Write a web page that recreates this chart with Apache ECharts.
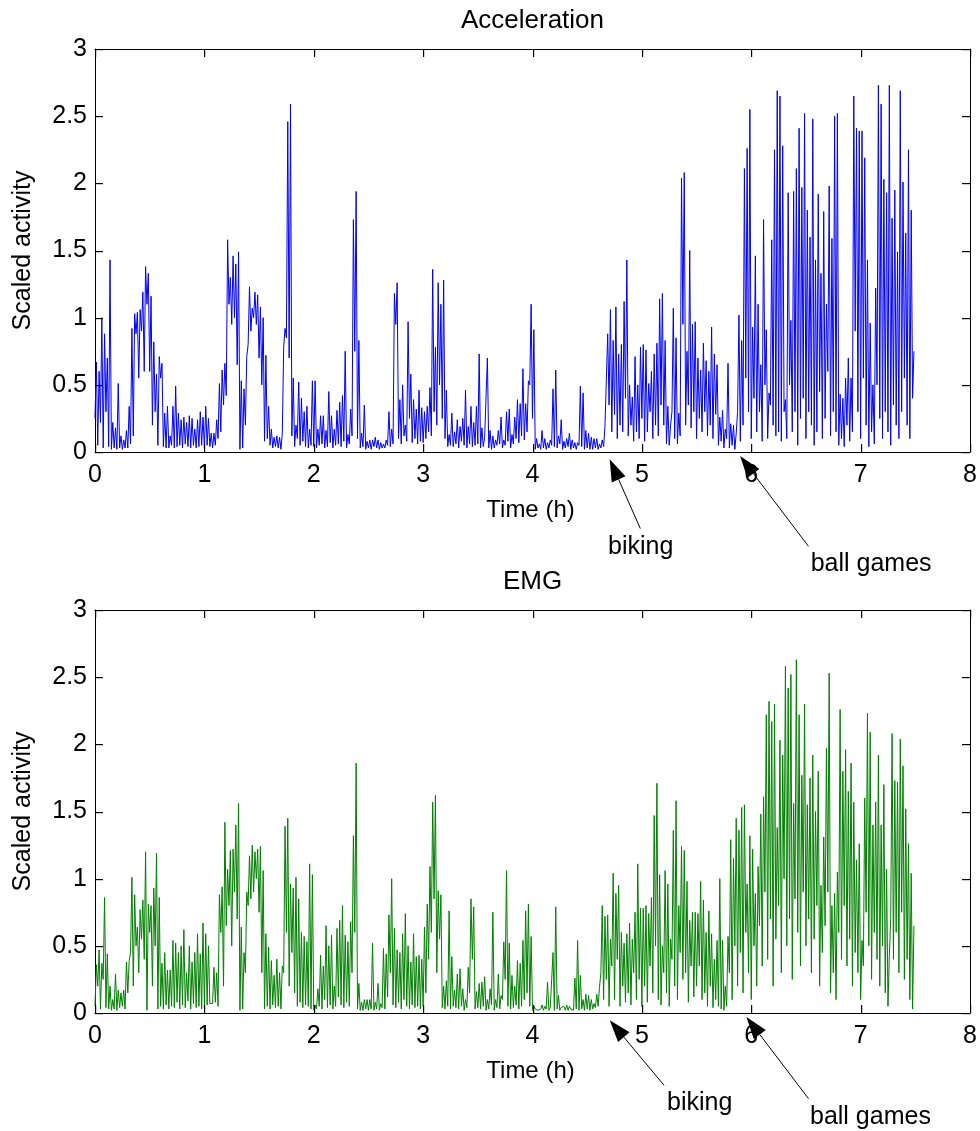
<!DOCTYPE html>
<html>
<head>
<meta charset="utf-8">
<title>Acceleration and EMG activity</title>
<script src="https://cdn.jsdelivr.net/npm/echarts@6/dist/echarts.min.js"></script>
<style>
  html, body { margin: 0; padding: 0; background: #fff; }
  #chart { width: 980px; height: 1131px; }
</style>
</head>
<body>
<div id="chart"></div>
<script>
// Sampling step of the activity signal, in hours (40 samples per hour, 0 to 7.5 h)
const STEP = 0.025;

// Acceleration: local peak of each sample window
const accPeak = [
  0.67,0.6,1.0,0.88,0.7,1.43,0.22,0.18,0.51,0.12,
  0.09,0.16,0.34,0.92,1.03,1.04,1.06,1.19,1.38,1.33,
  1.16,0.82,0.58,0.71,0.66,0.29,0.34,0.12,0.34,0.49,
  0.29,0.24,0.26,0.22,0.27,0.25,0.17,0.24,0.3,0.26,
  0.34,0.25,0.14,0.14,0.24,0.51,0.61,0.66,1.58,1.3,
  1.46,1.4,1.49,0.53,0.47,0.71,1.23,1.07,1.19,1.17,
  1.08,1.0,0.72,0.34,0.17,0.11,0.12,0.11,0.14,0.92,
  2.46,2.59,0.55,0.2,0.52,0.4,0.3,0.34,0.17,0.53,
  0.53,0.17,0.27,0.27,0.16,0.45,0.27,0.17,0.31,0.37,
  0.42,0.75,0.13,0.32,1.73,1.94,0.83,0.14,0.35,0.08,
  0.09,0.09,0.11,0.09,0.07,0.06,0.09,0.3,0.17,1.18,
  1.26,0.39,0.5,0.2,0.97,0.58,0.39,0.32,0.46,0.33,
  0.3,0.34,0.48,1.36,0.78,1.26,1.1,1.28,0.46,0.13,
  0.29,0.15,0.24,0.19,0.25,0.46,0.19,0.34,0.22,0.34,
  0.73,0.18,0.11,0.7,0.16,0.12,0.09,0.16,0.26,0.09,
  0.3,0.32,0.13,0.26,0.39,0.36,0.62,0.36,0.53,1.1,
  0.91,0.1,0.06,0.16,0.1,0.07,0.09,0.47,0.61,0.12,
  0.24,0.08,0.1,0.14,0.09,0.07,0.07,0.49,0.44,0.16,
  0.14,0.11,0.1,0.1,0.06,0.09,0.19,0.88,1.06,0.83,
  1.08,0.73,0.8,1.12,1.43,0.5,0.41,0.71,0.5,0.78,
  0.8,0.76,0.51,0.6,0.73,0.81,1.14,1.18,0.83,0.34,
  0.2,1.07,0.85,0.29,2.04,2.08,0.75,1.5,0.95,0.97,
  0.7,0.61,0.81,0.68,0.6,0.93,0.73,0.65,0.26,0.31,
  0.17,0.66,0.21,0.2,0.14,1.02,0.83,2.11,2.26,2.55,
  0.93,1.46,1.1,0.65,1.73,0.91,0.44,1.58,2.25,2.69,
  2.65,2.28,0.39,1.93,0.98,1.94,2.11,2.41,1.97,2.52,
  1.8,1.6,2.48,1.43,1.92,1.33,1.79,1.1,1.98,1.59,
  2.5,2.52,0.43,0.4,0.55,0.7,0.55,2.65,2.41,2.39,
  2.39,2.19,1.43,0.96,0.5,1.22,2.73,2.59,2.03,1.93,
  2.73,1.74,1.95,1.49,2.69,2.01,1.63,2.25,1.8,0.75
];

// Acceleration: trough between consecutive peaks
const accBase = [
  0.25,0.05,0.22,0.03,0.3,0.04,0.02,0.03,0.02,0.03,
  0.02,0.03,0.03,0.06,0.12,0.88,0.55,0.9,0.6,1.1,
  0.6,0.2,0.3,0.05,0.55,0.04,0.03,0.03,0.05,0.03,
  0.04,0.05,0.03,0.06,0.04,0.03,0.05,0.03,0.04,0.05,
  0.03,0.05,0.04,0.03,0.05,0.1,0.15,0.35,0.42,1.1,
  0.95,1.0,0.65,0.02,0.03,0.2,0.8,0.9,1.0,0.95,
  0.7,0.5,0.08,0.1,0.05,0.03,0.04,0.03,0.02,0.78,
  0.85,0.7,0.12,0.04,0.1,0.05,0.08,0.04,0.03,0.05,
  0.04,0.03,0.05,0.06,0.03,0.04,0.07,0.03,0.05,0.06,
  0.04,0.08,0.03,0.06,0.12,0.75,0.1,0.03,0.04,0.02,
  0.03,0.02,0.04,0.03,0.02,0.03,0.03,0.05,0.04,0.06,
  0.95,0.1,0.06,0.12,0.08,0.25,0.07,0.1,0.06,0.08,
  0.07,0.1,0.15,0.12,0.3,0.2,0.5,0.25,0.1,0.04,
  0.05,0.04,0.06,0.03,0.08,0.05,0.03,0.06,0.04,0.05,
  0.06,0.03,0.04,0.1,0.03,0.02,0.03,0.05,0.06,0.03,
  0.05,0.08,0.03,0.06,0.1,0.07,0.12,0.09,0.15,0.5,
  0.25,0.02,0.03,0.02,0.03,0.02,0.03,0.05,0.04,0.03,
  0.06,0.02,0.03,0.04,0.02,0.03,0.02,0.05,0.04,0.02,
  0.03,0.02,0.02,0.03,0.02,0.03,0.04,0.2,0.35,0.15,
  0.28,0.1,0.2,0.15,0.4,0.12,0.2,0.08,0.15,0.1,
  0.25,0.08,0.15,0.3,0.1,0.2,0.12,0.35,0.2,0.06,
  0.05,0.3,0.1,0.06,0.12,0.95,0.2,0.35,0.18,0.3,
  0.1,0.25,0.15,0.3,0.12,0.2,0.1,0.28,0.05,0.08,
  0.03,0.1,0.03,0.05,0.02,0.3,0.08,0.2,0.55,0.3,
  0.1,0.4,0.15,0.3,0.08,0.5,0.1,0.35,0.2,0.12,
  0.15,0.08,0.3,0.1,0.5,0.15,0.3,0.05,0.25,0.4,
  0.1,0.3,0.2,0.05,0.15,0.45,0.1,0.25,0.6,0.12,
  0.3,0.15,0.05,0.1,0.04,0.2,0.08,0.15,0.9,0.3,
  0.1,0.55,0.2,0.04,0.15,0.06,0.5,0.25,0.1,0.3,
  0.15,0.05,0.35,0.2,0.1,0.3,0.55,0.2,0.1,0.4
];

// EMG: local peak of each sample window
const emgPeak = [
  0.36,0.47,0.37,0.86,0.44,0.2,0.1,0.29,0.17,0.15,
  0.17,0.38,0.39,1.01,0.88,0.64,0.77,0.84,1.2,0.81,
  0.8,0.93,1.19,0.86,0.37,0.45,0.32,0.32,0.54,0.52,
  0.45,0.5,0.62,0.3,0.5,0.38,0.45,0.59,0.44,0.67,
  0.59,0.5,0.07,0.34,0.3,0.88,0.94,1.42,1.07,1.21,
  1.22,1.4,1.56,0.64,0.45,0.9,1.17,1.25,1.2,1.22,
  1.24,1.06,0.59,0.49,0.39,0.28,0.4,0.3,0.35,1.39,
  1.45,0.96,0.93,1.01,0.85,0.6,0.57,0.53,1.11,1.03,
  0.06,0.18,0.43,0.35,0.65,0.5,0.58,0.2,0.63,0.69,
  0.8,0.58,0.53,0.68,1.32,1.86,0.22,0.08,0.1,0.1,
  0.1,0.52,0.08,0.22,0.07,0.48,0.44,0.73,1.0,0.63,
  0.47,0.45,0.59,0.74,0.5,0.38,0.59,0.42,0.43,0.4,
  0.64,0.81,1.09,1.57,1.62,0.91,0.88,0.2,0.24,0.76,
  0.42,0.17,0.29,0.33,0.18,0.1,0.34,0.85,0.79,0.16,
  0.22,0.23,0.27,0.1,0.18,0.75,0.1,0.29,0.13,0.53,
  1.06,0.52,0.28,0.2,0.39,0.37,0.54,0.76,0.81,0.57,
  0.05,0.04,0.03,0.06,0.05,0.23,0.04,0.45,0.79,0.13,
  0.04,0.05,0.06,0.05,0.04,0.26,0.54,0.28,0.1,0.14,
  0.13,0.1,0.07,0.14,0.19,0.8,0.72,0.73,0.55,1.04,
  0.89,0.95,0.6,0.52,0.59,0.67,0.55,0.75,1.11,0.78,
  0.78,0.8,0.74,0.86,1.47,1.71,1.03,0.5,1.06,0.96,
  0.55,1.36,1.58,0.8,1.24,1.21,0.98,0.69,0.75,0.75,
  0.74,0.98,0.84,0.6,0.76,0.59,0.4,0.54,1.0,0.54,
  0.2,0.57,1.29,1.15,1.45,1.36,1.53,1.55,0.96,1.32,
  1.22,0.89,1.09,1.48,1.61,2.22,2.32,2.17,2.3,1.38,
  2.03,1.92,2.58,2.42,2.52,1.56,2.63,2.22,1.77,2.3,
  1.55,1.75,1.92,1.5,1.8,0.95,1.31,1.97,2.53,0.8,
  0.89,1.05,2.26,1.8,1.96,1.65,1.86,1.57,1.14,1.26,
  0.54,1.6,2.23,2.09,1.4,1.57,1.92,1.4,1.7,1.07,
  0.43,2.08,1.73,1.72,2.04,1.84,1.52,1.26,1.04,0.65
];

// EMG: trough between consecutive peaks
const emgBase = [
  0.05,0.2,0.03,0.25,0.04,0.03,0.02,0.03,0.02,0.04,
  0.05,0.03,0.15,0.45,0.2,0.5,0.3,0.55,0.4,0.02,
  0.6,0.2,0.5,0.03,0.05,0.03,0.06,0.03,0.05,0.04,
  0.08,0.03,0.06,0.04,0.09,0.03,0.07,0.04,0.05,0.03,
  0.04,0.06,0.07,0.07,0.08,0.05,0.6,0.2,0.65,0.8,
  0.5,0.9,0.7,0.02,0.03,0.3,0.8,0.85,0.9,1.0,
  0.75,0.3,0.03,0.05,0.03,0.06,0.04,0.05,0.03,0.3,
  0.6,0.2,0.45,0.15,0.05,0.08,0.04,0.06,0.05,0.03,
  0.02,0.03,0.05,0.03,0.1,0.04,0.06,0.03,0.05,0.12,
  0.06,0.04,0.08,0.05,0.3,0.6,0.03,0.02,0.02,0.03,
  0.02,0.03,0.02,0.03,0.02,0.04,0.03,0.12,0.3,0.06,
  0.04,0.08,0.03,0.1,0.05,0.03,0.06,0.04,0.05,0.03,
  0.05,0.15,0.4,0.6,0.85,0.3,0.55,0.04,0.03,0.05,
  0.03,0.05,0.04,0.03,0.05,0.02,0.04,0.15,0.4,0.03,
  0.04,0.03,0.05,0.02,0.03,0.06,0.02,0.04,0.03,0.1,
  0.25,0.05,0.03,0.04,0.06,0.03,0.05,0.1,0.15,0.05,
  0.02,0.03,0.02,0.03,0.02,0.03,0.02,0.03,0.02,0.03,
  0.02,0.03,0.02,0.02,0.03,0.02,0.03,0.02,0.03,0.02,
  0.03,0.02,0.03,0.04,0.05,0.3,0.1,0.25,0.05,0.35,
  0.1,0.4,0.05,0.2,0.08,0.15,0.06,0.3,0.1,0.25,
  0.05,0.2,0.08,0.35,0.15,0.5,0.1,0.06,0.3,0.15,
  0.05,0.4,0.2,0.1,0.45,0.25,0.3,0.08,0.35,0.12,
  0.2,0.35,0.1,0.15,0.05,0.2,0.04,0.1,0.05,0.03,
  0.02,0.05,0.3,0.1,0.5,0.2,0.45,0.15,0.6,0.3,
  0.1,0.5,0.2,0.65,0.35,0.9,0.4,0.7,0.2,0.55,
  0.8,0.3,1.0,0.5,0.7,0.25,0.85,0.6,0.35,0.9,
  0.5,0.7,0.3,0.55,0.8,0.2,0.45,0.65,0.9,0.15,
  0.3,0.1,0.6,0.4,0.8,0.35,0.55,0.2,0.45,0.3,
  0.1,0.35,0.75,0.5,0.25,0.6,0.4,0.2,0.5,0.15,
  0.05,0.7,0.4,0.6,0.3,0.75,0.25,0.4,0.1,0.03
];

// Axis ticks
const timeTicks = [0, 1, 2, 3, 4, 5, 6, 7, 8];
const activityTicks = [0, 0.5, 1, 1.5, 2, 2.5, 3];

// Panel titles and activity annotations (arrow tip: [time h, activity])
const panelTitles = ['Acceleration', 'EMG'];
const annotations = [
  [ { text: 'biking',     tip: [4.706, -0.054], tail: [30.6, 69.3], label: [31, 88] },
    { text: 'ball games', tip: [5.898, -0.03],  tail: [68.4, 90.3], label: [131, 108] } ],
  [ { text: 'biking',     tip: [4.706, -0.054], tail: [54.3, 65],   label: [90, 83] },
    { text: 'ball games', tip: [5.956, -0.03],  tail: [62.1, 81.6], label: [124, 100] } ]
];

const FONT = '"Liberation Sans", Arial, Helvetica, sans-serif';
const TICK_LEN = 8;

// Interleave troughs and peaks into a spike trace along the time axis
function spikeTrace(base, peak) {
  const pts = [];
  for (let i = 0; i < peak.length; i++) {
    pts.push([i * STEP, base[i]]);
    pts.push([i * STEP + STEP / 2, peak[i]]);
  }
  return pts;
}

const gridRects = [
  { left: 95, top: 49, width: 875, height: 403 },
  { left: 95, top: 610, width: 875, height: 403 }
];

function xAxisFor(gridIndex, position) {
  const shown = position === 'bottom';
  return {
    type: 'value', gridIndex, position,
    min: timeTicks[0], max: timeTicks[timeTicks.length - 1], interval: 1,
    axisLine: { show: true, onZero: false, lineStyle: { color: '#000', width: 1 } },
    axisTick: { show: false },
    axisLabel: { show: shown, color: '#000', fontFamily: FONT, fontSize: 25, margin: 11 },
    splitLine: { show: false }
  };
}
function yAxisFor(gridIndex, position) {
  const shown = position === 'left';
  return {
    type: 'value', gridIndex, position,
    min: activityTicks[0], max: activityTicks[activityTicks.length - 1], interval: 0.5,
    axisLine: { show: true, onZero: false, lineStyle: { color: '#000', width: 1 } },
    axisTick: { show: false },
    axisLabel: { show: shown, color: '#000', fontFamily: FONT, fontSize: 25, margin: 8 },
    splitLine: { show: false }
  };
}

const chart = echarts.init(document.getElementById('chart'), null, { renderer: 'canvas' });

const option = {
  animation: false,
  backgroundColor: '#fff',
  grid: gridRects.map(r => Object.assign({ containLabel: false, outerBoundsMode: 'none' }, r)),
  xAxis: [xAxisFor(0, 'bottom'), xAxisFor(0, 'top'), xAxisFor(1, 'bottom'), xAxisFor(1, 'top')],
  yAxis: [yAxisFor(0, 'left'), yAxisFor(0, 'right'), yAxisFor(1, 'left'), yAxisFor(1, 'right')],
  series: [
    {
      type: 'line', name: 'Acceleration', xAxisIndex: 0, yAxisIndex: 0,
      data: spikeTrace(accBase, accPeak), showSymbol: false, sampling: null,
      lineStyle: { color: '#0000ff', width: 1 }, z: 1
    },
    {
      type: 'line', name: 'EMG', xAxisIndex: 2, yAxisIndex: 2,
      data: spikeTrace(emgBase, emgPeak), showSymbol: false, sampling: null,
      lineStyle: { color: '#008000', width: 1 }, z: 1
    }
  ]
};
chart.setOption(option);

// Titles, axis names, inward tick marks on all four sides and annotation arrows
function buildGraphics() {
  const els = [];
  // small filled bars used as inward tick marks
  const tickMark = (x, y, w, h) => els.push({ type: 'rect', z: 100,
    shape: { x, y, width: w, height: h }, style: { fill: '#000' } });

  gridRects.forEach((r, g) => {
    const finder = { seriesIndex: g };
    const yMin = activityTicks[0], yMax = activityTicks[activityTicks.length - 1];
    const xMin = timeTicks[0], xMax = timeTicks[timeTicks.length - 1];

    timeTicks.forEach(t => {
      const b = chart.convertToPixel(finder, [t, yMin]);
      const tp = chart.convertToPixel(finder, [t, yMax]);
      const x = Math.round(b[0]);
      tickMark(x, Math.round(b[1]) - TICK_LEN, 1.2, TICK_LEN);
      tickMark(x, Math.round(tp[1]), 1.2, TICK_LEN);
    });
    activityTicks.forEach(v => {
      const l = chart.convertToPixel(finder, [xMin, v]);
      const rr = chart.convertToPixel(finder, [xMax, v]);
      const y = Math.round(l[1]);
      tickMark(Math.round(l[0]), y, TICK_LEN, 1.2);
      tickMark(Math.round(rr[0]) - TICK_LEN, y, TICK_LEN, 1.2);
    });

    const cx = r.left + r.width / 2;
    els.push({ type: 'text', x: cx, y: r.top - 28,
      style: { text: panelTitles[g], fontFamily: FONT, fontSize: 26, fill: '#000', align: 'center', verticalAlign: 'middle' } });
    els.push({ type: 'text', x: cx - 2, y: r.top + r.height + 58,
      style: { text: 'Time (h)', fontFamily: FONT, fontSize: 24, fill: '#000', align: 'center', verticalAlign: 'middle' } });
    els.push({ type: 'text', x: 23, y: r.top + r.height / 2, rotation: Math.PI / 2,
      style: { text: 'Scaled activity', fontFamily: FONT, fontSize: 25, fill: '#000', align: 'center', verticalAlign: 'middle' } });

    annotations[g].forEach(a => {
      const tip = chart.convertToPixel(finder, a.tip);
      const tail = [tip[0] + a.tail[0], tip[1] + a.tail[1]];
      const dx = tip[0] - tail[0], dy = tip[1] - tail[1];
      const len = Math.sqrt(dx * dx + dy * dy);
      const ux = dx / len, uy = dy / len;
      const L = 22, W = 7.5;
      const bx = tip[0] - ux * L, by = tip[1] - uy * L;
      els.push({ type: 'line', shape: { x1: tail[0], y1: tail[1], x2: bx, y2: by },
        style: { stroke: '#000', lineWidth: 1 } });
      els.push({ type: 'polygon', shape: { points: [
          [tip[0], tip[1]], [bx - uy * W, by + ux * W], [bx + uy * W, by - ux * W] ] },
        style: { fill: '#000' } });
      els.push({ type: 'text', x: tip[0] + a.label[0], y: tip[1] + a.label[1],
        style: { text: a.text, fontFamily: FONT, fontSize: 25, fill: '#000', align: 'center', verticalAlign: 'middle' } });
    });
  });
  return els;
}
chart.setOption({ graphic: { elements: buildGraphics() } });
</script>
</body>
</html>
